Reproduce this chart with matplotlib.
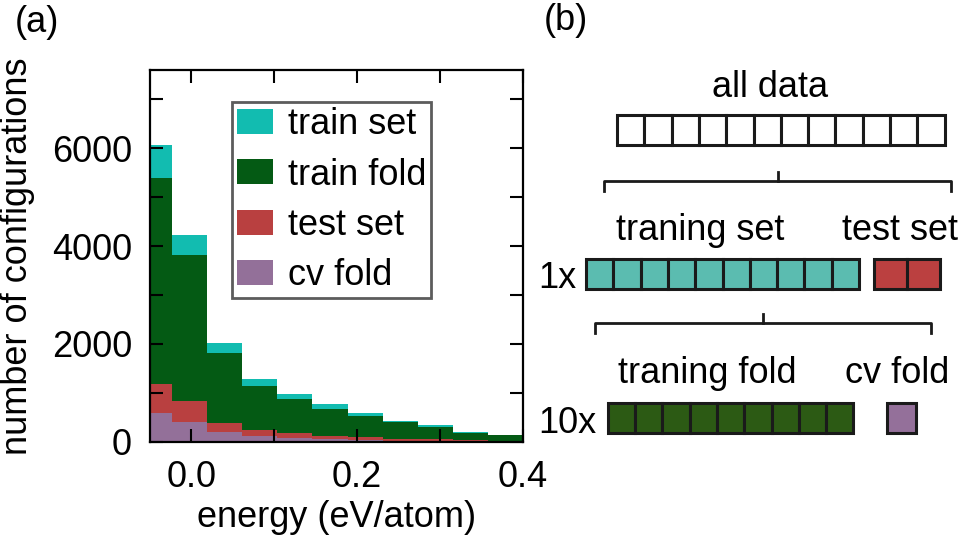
import numpy as np
import matplotlib
matplotlib.use("Agg")
import matplotlib.pyplot as plt
from matplotlib.patches import Rectangle

plt.rcParams["font.family"] = ["Liberation Sans", "DejaVu Sans"]
plt.rcParams["font.size"] = 26

# Histogram data (counts per energy bin)
bin_edges = np.linspace(-0.0653, 0.4, 12)
train_set = [6060, 4233, 2014, 1288, 979, 767, 582, 425, 349, 192, 144]
train_fold = [5390, 3822, 1808, 1144, 877, 664, 527, 411, 308, 185, 130]
test_set = [1185, 836, 377, 233, 171, 123, 103, 62, 48, 27, 14]
cv_fold = [582, 411, 192, 123, 82, 55, 41, 20, 14, 7, 7]

series = [
    ("train set", train_set, "#12bcb0"),
    ("train fold", train_fold, "#045a14"),
    ("test set", test_set, "#b94040"),
    ("cv fold", cv_fold, "#937099"),
]

# Split scheme (number of blocks in each group)
n_all = 12
n_train = 10
n_test = 2
n_trainfold = 9
n_cv = 1

fig = plt.figure(figsize=(9.72, 5.44), dpi=100)

# (a) histogram
ax = fig.add_axes([150 / 972, (544 - 441.7) / 544, 372.7 / 972, 371.7 / 544])
for label, counts, color in series:
    ax.stairs(counts, bin_edges, fill=True, color=color, label=label)

ax.set_xlim(-0.05, 0.4)
ax.set_ylim(0, 7600)
ax.set_xticks([0.0, 0.2, 0.4])
ax.set_xticks([0.1, 0.3], minor=True)
ax.set_yticks([0, 2000, 4000, 6000])
ax.set_yticks([1000, 3000, 5000, 7000], minor=True)
ax.xaxis.set_major_formatter(matplotlib.ticker.FormatStrFormatter("%.1f"))
ax.tick_params(which="both", direction="in", top=True, right=True,
               length=9.5, width=1.5, pad=13)
for sp in ax.spines.values():
    sp.set_linewidth(1.6)
ax.set_xlabel("energy (eV/atom)", labelpad=4)
ax.set_ylabel("number of configurations", labelpad=12)

leg = ax.legend(loc="upper left", bbox_to_anchor=(0.219, 0.913), borderaxespad=0,
                frameon=True, fancybox=False, edgecolor="#333333",
                handlelength=1.0, handleheight=0.69, handletextpad=0.42,
                labelspacing=0.42, borderpad=0.14, fontsize=26)
leg.get_frame().set_linewidth(2)

# (b) scheme, drawn in pixel coordinates
ov = fig.add_axes([0, 0, 1, 1])
ov.set_xlim(0, 972)
ov.set_ylim(544, 0)
ov.axis("off")

box_w = 27.3
box_h = 30
lw = 2.2


def draw_row(x0, y0, n, w, color):
    for i in range(n):
        ov.add_patch(Rectangle((x0 + i * w, y0), w, box_h, facecolor=color,
                               edgecolor="#1a1a1a", linewidth=lw))


def bracket(x0, x1, y, xc):
    ov.plot([x0, x0, x1, x1], [y + 10, y, y, y + 10], color="#1a1a1a", lw=2.0)
    ov.plot([xc, xc], [y, y - 9], color="#1a1a1a", lw=2.0)


draw_row(617, 115, n_all, box_w, "white")
bracket(604, 951, 181, 777.7)
draw_row(586, 259, n_train, box_w, "#5bbcb0")
draw_row(874.3, 259, n_test, 32.8, "#bb4040")
bracket(595, 931, 323, 763)
draw_row(607.7, 403.3, n_trainfold, box_w, "#2c5a14")
draw_row(887.3, 403.3, n_cv, 28.7, "#94709a")

ov.text(770, 96.7, "all data", ha="center", va="baseline")
ov.text(700, 240, "traning set", ha="center", va="baseline")
ov.text(899.5, 240, "test set", ha="center", va="baseline")
ov.text(707, 383, "traning fold", ha="center", va="baseline")
ov.text(897, 383, "cv fold", ha="center", va="baseline")
ov.text(576, 288, "1x", ha="right", va="baseline")
ov.text(596, 433, "10x", ha="right", va="baseline")

ov.text(37, 22, "(a)", ha="center", va="center")
ov.text(566, 20, "(b)", ha="center", va="center")

fig.savefig("out.png", dpi=100)
